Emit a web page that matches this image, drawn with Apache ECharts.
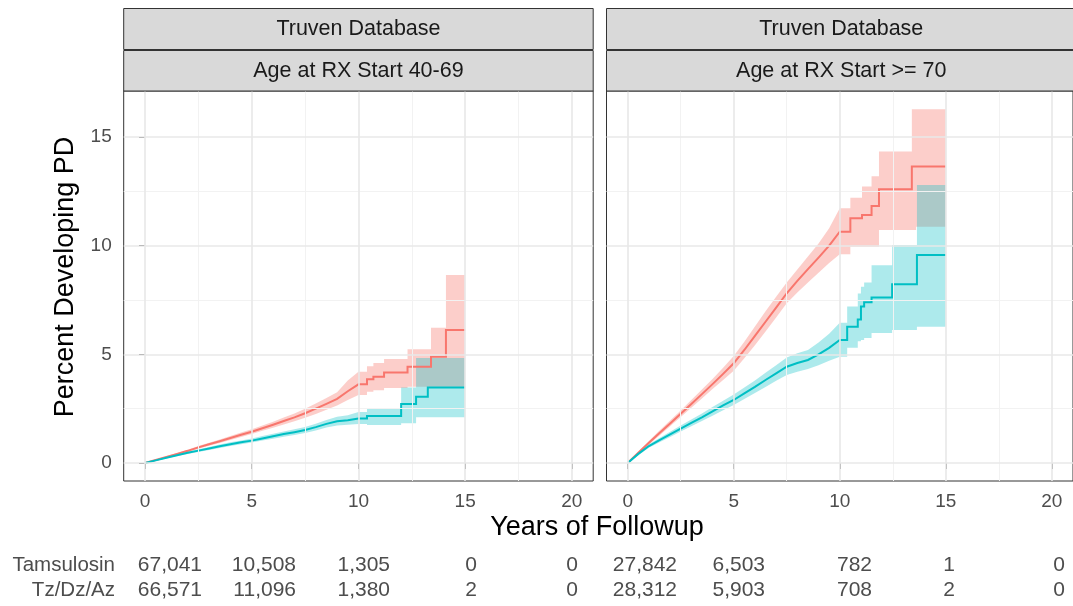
<!DOCTYPE html>
<html>
<head>
<meta charset="utf-8">
<script src="https://cdn.jsdelivr.net/npm/echarts@6/dist/echarts.min.js"></script>
<style>html,body{margin:0;padding:0;background:#fff}#c{width:1073px;height:606px}</style>
</head>
<body>
<div id="c"></div>
<script>
// ---------- data ----------
const databaseLabel = 'Truven Database';
const panelTitles = ['Age at RX Start 40-69', 'Age at RX Start >= 70'];
const groupNames = ['Tamsulosin', 'Tz/Dz/Az'];
const xTickValues = [0, 5, 10, 15, 20];
const xMinorValues = [2.5, 7.5, 12.5, 17.5];
const yTickValues = [0, 5, 10, 15];
const yMinorValues = [2.5, 7.5, 12.5];
const xTitle = 'Years of Followup';
const yTitle = 'Percent Developing PD';

// Curve vertices (repeated times = vertical steps)
// Age 40-69, Tamsulosin
const young_tam_t   = [0,0.5,1,1.5,2,2.5,3,3.5,4,4.5,5,5.5,6,6.5,7,7.5,8,8.5,9,9.5,10, 10.4,10.4, 10.7,10.7, 11.2,11.2, 12.3,12.3, 13.4,13.4, 14.1,14.1, 15];
const young_tam_est = [0,0.14,0.28,0.42,0.56,0.72,0.86,1.0,1.15,1.30,1.44,1.60,1.76,1.93,2.10,2.29,2.50,2.72,2.95,3.30,3.62, 3.62,3.85, 3.85,3.97, 3.97,4.16, 4.16,4.43, 4.43,4.89, 4.89,6.12, 6.12];
const young_tam_lo  = [0,0.12,0.25,0.38,0.51,0.66,0.79,0.92,1.06,1.20,1.33,1.48,1.62,1.77,1.92,2.08,2.26,2.45,2.65,2.90,3.13, 3.13,3.28, 3.28,3.35, 3.35,3.45, 3.45,3.51, 3.51,3.51, 3.51,3.51, 3.51];
const young_tam_hi  = [0,0.16,0.31,0.46,0.61,0.78,0.93,1.08,1.24,1.40,1.55,1.72,1.90,2.09,2.28,2.50,2.74,2.99,3.25,3.80,4.20, 4.20,4.45, 4.45,4.60, 4.60,4.79, 4.79,5.23, 5.23,6.22, 6.22,8.65, 8.65];
// Age 40-69, Tz/Dz/Az
const young_tz_t   = [0,0.5,1,1.5,2,2.5,3,3.5,4,4.5,5,5.5,6,6.5,7,7.5,8,8.5,9,9.5,10, 10.4,10.4, 12.0,12.0, 12.7,12.7, 13.25,13.25, 15];
const young_tz_est = [0,0.12,0.24,0.36,0.47,0.57,0.67,0.77,0.86,0.95,1.03,1.13,1.23,1.33,1.42,1.52,1.65,1.80,1.92,1.97,2.05, 2.05,2.16, 2.16,2.71, 2.71,3.05, 3.05,3.47, 3.47];
const young_tz_lo  = [0,0.10,0.21,0.32,0.42,0.51,0.60,0.69,0.78,0.86,0.94,1.03,1.12,1.21,1.29,1.38,1.49,1.63,1.72,1.76,1.80, 1.80,1.75, 1.75,1.83, 1.83,2.10, 2.10,2.10, 2.10];
const young_tz_hi  = [0,0.14,0.27,0.40,0.52,0.63,0.74,0.85,0.95,1.04,1.13,1.24,1.35,1.45,1.55,1.66,1.81,1.98,2.13,2.20,2.35, 2.35,2.50, 2.50,3.47, 3.47,4.83, 4.83,4.83, 4.83];
// Age >= 70, Tamsulosin
const old_tam_t   = [0,0.5,1,1.5,2,2.5,3,3.5,4,4.5,5,5.5,6,6.5,7,7.5,8,8.5,9,9.5,10, 10.5,10.5, 11.05,11.05, 11.5,11.5, 11.85,11.85, 13.4,13.4, 13.6,13.6, 15];
const old_tam_est = [0,0.47,0.93,1.38,1.82,2.27,2.72,3.17,3.63,4.10,4.59,5.20,5.85,6.50,7.15,7.81,8.38,8.92,9.45,10.00,10.64, 10.64,11.26, 11.26,11.41, 11.41,11.83, 11.83,12.60, 12.60,13.64, 13.64,13.64, 13.64];
const old_tam_lo  = [0,0.42,0.85,1.27,1.69,2.12,2.54,2.97,3.40,3.82,4.25,4.82,5.42,6.05,6.70,7.35,7.85,8.30,8.75,9.20,9.60, 9.60,9.95, 9.95,9.95, 9.95,9.95, 9.95,10.72, 10.72,10.72, 10.72,10.87, 10.87];
const old_tam_hi  = [0,0.52,1.01,1.49,1.96,2.42,2.90,3.38,3.87,4.38,4.92,5.58,6.28,6.98,7.65,8.30,8.90,9.50,10.10,10.80,11.72, 11.72,12.20, 12.20,12.72, 12.72,13.20, 13.20,14.33, 14.33,16.28, 16.28,16.28, 16.28];
// Age >= 70, Tz/Dz/Az
const old_tz_t   = [0,0.5,1,1.5,2,2.5,3,3.5,4,4.5,5,5.5,6,6.5,7,7.5,8,8.5,9,9.5,10, 10.35,10.35, 10.85,10.85, 11.0,11.0, 11.15,11.15, 11.5,11.5, 12.47,12.47, 13.64,13.64, 15];
const old_tz_est = [0,0.42,0.78,1.05,1.32,1.58,1.85,2.10,2.38,2.65,2.90,3.20,3.50,3.82,4.12,4.43,4.60,4.74,5.00,5.30,5.66, 5.66,6.27, 6.27,6.60, 6.60,7.20, 7.20,7.40, 7.40,7.62, 7.62,8.22, 8.22,9.57, 9.57];
const old_tz_lo  = [0,0.36,0.70,0.95,1.20,1.45,1.69,1.93,2.18,2.43,2.67,2.94,3.22,3.50,3.78,4.05,4.20,4.32,4.50,4.70,4.89, 4.89,5.30, 5.30,5.60, 5.60,5.66, 5.66,5.75, 5.75,5.98, 5.98,6.12, 6.12,6.27, 6.27];
const old_tz_hi  = [0,0.48,0.86,1.15,1.44,1.72,2.00,2.28,2.58,2.87,3.15,3.47,3.80,4.15,4.50,4.85,5.05,5.20,5.55,5.95,6.45, 6.45,7.20, 7.20,7.80, 7.80,8.11, 8.11,8.30, 8.30,9.10, 9.10,10.03, 10.03,12.79, 12.79];

// numbers at risk
const young_tam_risk = ['67,041', '10,508', '1,305', '0', '0'];
const young_tz_risk  = ['66,571', '11,096', '1,380', '2', '0'];
const old_tam_risk   = ['27,842', '6,503', '782', '1', '0'];
const old_tz_risk    = ['28,312', '5,903', '708', '2', '0'];

// ---------- layout / style ----------
const FONT = '"Liberation Sans", Arial, Helvetica, sans-serif';
const RED = '#F8766D', TEAL = '#00BFC4';
const RED_FILL = 'rgba(248,118,109,0.36)', TEAL_FILL = 'rgba(0,191,196,0.32)';
const panelLeft = [123.7, 606.5];
const panelW = 469.5;
const panelTop = 91, panelH = 390;
const yMin = -0.828, yMax = 17.117;
const riskRight = [[202, 296, 390, 477, 578], [677, 765, 872, 955, 1065]];
const riskRowY = [565, 590];

const panels = [
  {tam: [young_tam_t, young_tam_est, young_tam_lo, young_tam_hi], tz: [young_tz_t, young_tz_est, young_tz_lo, young_tz_hi], risk: [young_tam_risk, young_tz_risk]},
  {tam: [old_tam_t, old_tam_est, old_tam_lo, old_tam_hi], tz: [old_tz_t, old_tz_est, old_tz_lo, old_tz_hi], risk: [old_tam_risk, old_tz_risk]}
];

const grids = [], xAxes = [], yAxes = [], series = [], graphics = [];

function ribbon(idx, curve, fill) {
  const [t, est, lo, hi] = curve;
  return {
    type: 'custom', xAxisIndex: idx, yAxisIndex: idx, z: 2, silent: true,
    data: t.map((v, i) => [v, lo[i], hi[i]]),
    encode: {x: 0, y: [1, 2]},
    renderItem: function (params, api) {
      if (params.dataIndexInside !== 0) return null;
      const n = params.dataInsideLength;
      const up = [], dn = [];
      for (let i = 0; i < n; i++) {
        const tt = api.value(0, i);
        up.push(api.coord([tt, api.value(2, i)]));
        dn.push(api.coord([tt, api.value(1, i)]));
      }
      return {type: 'polygon', shape: {points: up.concat(dn.reverse())}, style: {fill: fill, stroke: null}};
    }
  };
}
function curveLine(idx, curve, color) {
  const [t, est] = curve;
  return {
    type: 'line', xAxisIndex: idx, yAxisIndex: idx, z: 3,
    data: t.map((v, i) => [v, est[i]]), symbol: 'none', showSymbol: false, silent: true,
    lineStyle: {color: color, width: 2, join: 'miter'}
  };
}
function gridLines(idx, xs, ys, color, width) {
  return {
    type: 'line', xAxisIndex: idx, yAxisIndex: idx, z: 1, data: [], silent: true,
    markLine: {
      silent: true, symbol: ['none', 'none'], animation: false,
      label: {show: false},
      lineStyle: {color: color, width: width, type: 'solid'},
      emphasis: {disabled: true},
      data: xs.map(v => ({xAxis: v})).concat(ys.map(v => ({yAxis: v})))
    }
  };
}

panels.forEach((p, idx) => {
  grids.push({left: panelLeft[idx], top: panelTop, width: panelW, height: panelH,
    show: true, borderColor: '#333333', borderWidth: 1, backgroundColor: '#ffffff', containLabel: false});
  xAxes.push({
    type: 'value', gridIndex: idx, min: -1, max: 21,
    axisLine: {show: false},
    axisTick: {show: true, length: 6, lineStyle: {color: '#333333', width: 1}, customValues: xTickValues},
    axisLabel: {show: true, customValues: xTickValues, margin: 11, color: '#4D4D4D', fontSize: 19, fontFamily: FONT},
    splitLine: {show: false}, minorSplitLine: {show: false}
  });
  yAxes.push({
    type: 'value', gridIndex: idx, min: yMin, max: yMax,
    axisLine: {show: false},
    axisTick: {show: idx === 0, length: 6, lineStyle: {color: '#333333', width: 1}, customValues: yTickValues},
    axisLabel: {show: idx === 0, customValues: yTickValues, margin: 12, color: '#4D4D4D', fontSize: 19, fontFamily: FONT},
    splitLine: {show: false}
  });
  series.push(gridLines(idx, xMinorValues, yMinorValues, '#F2F2F2', 1));
  series.push(gridLines(idx, xTickValues, yTickValues, '#E8E8E8', 1.6));
  series.push(ribbon(idx, p.tam, RED_FILL));
  series.push(ribbon(idx, p.tz, TEAL_FILL));
  series.push(curveLine(idx, p.tam, RED));
  series.push(curveLine(idx, p.tz, TEAL));

  // strips
  const sx = panelLeft[idx];
  graphics.push({type: 'rect', shape: {x: sx, y: 8.5, width: panelW, height: 41}, style: {fill: '#D9D9D9', stroke: '#333333', lineWidth: 1}, z: 10});
  graphics.push({type: 'rect', shape: {x: sx, y: 50.5, width: panelW, height: 40.5}, style: {fill: '#D9D9D9', stroke: '#333333', lineWidth: 1}, z: 10});
  graphics.push({type: 'text', x: sx + panelW / 2, y: 29.5, z: 11,
    style: {text: databaseLabel, fill: '#1A1A1A', font: '21.5px ' + FONT, textAlign: 'center', textVerticalAlign: 'middle'}});
  graphics.push({type: 'text', x: sx + panelW / 2, y: 71, z: 11,
    style: {text: panelTitles[idx], fill: '#1A1A1A', font: '21.5px ' + FONT, textAlign: 'center', textVerticalAlign: 'middle'}});

  // risk table
  p.risk.forEach((row, r) => {
    row.forEach((val, j) => {
      graphics.push({type: 'text', x: riskRight[idx][j], y: riskRowY[r], z: 11,
        style: {text: val, fill: '#4D4D4D', font: '21px ' + FONT, textAlign: 'right', textVerticalAlign: 'middle'}});
    });
  });
});

groupNames.forEach((g, r) => {
  graphics.push({type: 'text', x: 115, y: riskRowY[r], z: 11,
    style: {text: g, fill: '#4D4D4D', font: '20.5px ' + FONT, textAlign: 'right', textVerticalAlign: 'middle'}});
});
graphics.push({type: 'text', x: 597, y: 528, z: 11,
  style: {text: xTitle, fill: '#000000', font: '27px ' + FONT, textAlign: 'center', textVerticalAlign: 'middle'}});
graphics.push({type: 'text', x: 66, y: 277, rotation: Math.PI / 2, z: 11,
  style: {text: yTitle, fill: '#000000', font: '27px ' + FONT, textAlign: 'center', textVerticalAlign: 'middle'}});

const chart = echarts.init(document.getElementById('c'), null, {renderer: 'canvas'});
chart.setOption({
  animation: false,
  backgroundColor: '#ffffff',
  grid: grids, xAxis: xAxes, yAxis: yAxes, series: series,
  graphic: graphics
});
</script>
</body>
</html>
